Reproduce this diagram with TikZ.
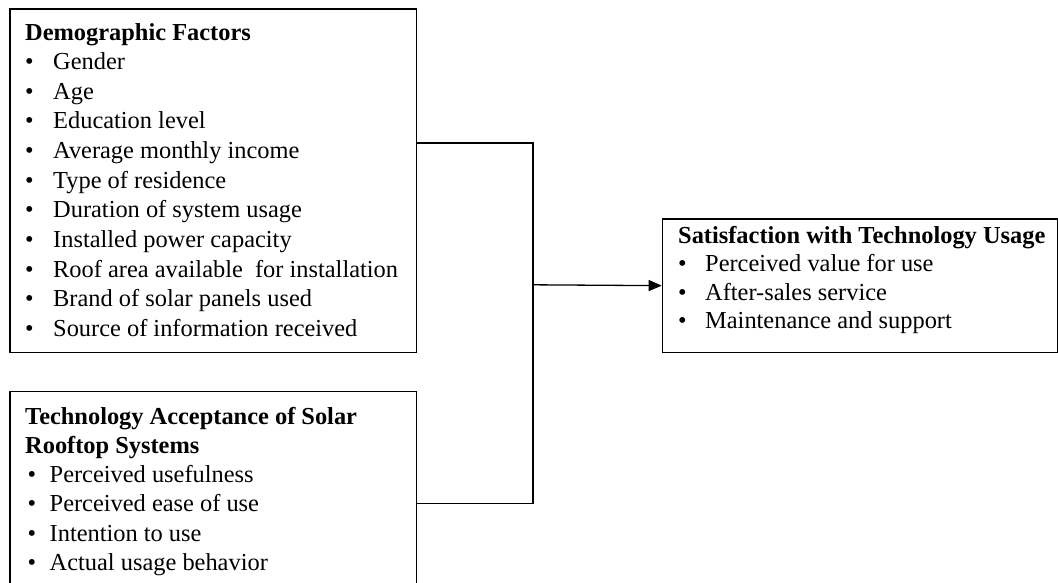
\documentclass[tikz,border=0pt]{standalone}
\usepackage{fontspec}
\setmainfont{Liberation Serif}
\usetikzlibrary{arrows.meta}
\newcommand{\bl}[1]{\llap{\textbullet\hspace{#1}}}
\tikzset{
  boxshape/.style={draw=black, line width=1.3pt, inner sep=0pt, anchor=north west},
  txt/.style={inner sep=0pt, anchor=base west, font=\fontsize{24.4pt}{29.7pt}\selectfont},
  head/.style={txt, font=\fontsize{24.4pt}{29.7pt}\selectfont\bfseries},
  conn/.style={draw=black, line width=1.3pt},
  arr/.style={conn, -{Triangle[length=13pt,width=11pt]}}
}
\begin{document}
\begin{tikzpicture}[x=1pt,y=-1pt]
\useasboundingbox (0,0) rectangle (1058,582);
\clip (0,0) rectangle (1058,582);
% boxes
\node[boxshape, minimum width=406.7pt, minimum height=343.4pt] (demo) at (9.3,8.3) {};
\node[boxshape, minimum width=406.7pt, minimum height=220pt] (tam) at (9.3,390.7) {};
\node[boxshape, minimum width=395.3pt, minimum height=133.4pt] (sat) at (661.7,218.3) {};
% box 1 text
\node[head] (dh) at (25,40) {Demographic Factors};
\foreach [count=\i] \t in {Gender, Age, Education level, Average monthly income, Type of residence, Duration of system usage, Installed power capacity, Roof area available~ for installation, Brand of solar panels used, Source of information received}
  \node[txt] (d\i) at (53,{69.5+29.65*(\i-1)}) {\bl{19.5pt}\t};
% box 2 text
\node[head] (th1) at (25,424) {Technology Acceptance of Solar};
\node[head] (th2) at (25,453) {Rooftop Systems};
\foreach [count=\i] \t in {Perceived usefulness, Perceived ease of use, Intention to use, Actual usage behavior}
  \node[txt] (t\i) at (49.5,{482.3+29.4*(\i-1)}) {\bl{13.5pt}\t};
% box 3 text
\node[head] (sh) at (678,243) {Satisfaction with Technology Usage};
\foreach [count=\i] \t in {Perceived value for use, After-sales service, Maintenance and support}
  \node[txt] (s\i) at (705,{271.5+28.7*(\i-1)}) {\bl{18.5pt}\t};
% connectors
\coordinate (j) at (533,284.8);
\draw[conn] ([yshift=-134.7pt]demo.north east) -| (j);
\draw[conn] ([yshift=-112.6pt]tam.north east) -| (j);
\draw[arr] (j) -- (sat.west);
\end{tikzpicture}
\end{document}
